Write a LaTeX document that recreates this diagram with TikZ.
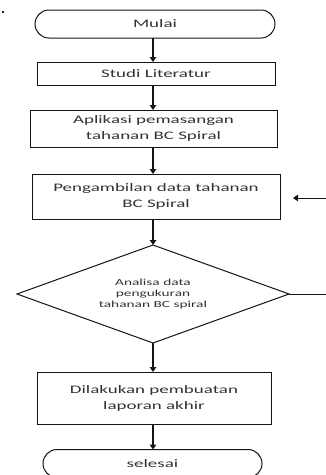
\documentclass[tikz,border=0pt]{standalone}
\usepackage{fontspec}
\usetikzlibrary{shapes.geometric,shapes.misc,arrows.meta}
\newfontfamily\boxfont[FakeStretch=1.65]{Carlito}
\definecolor{inkline}{RGB}{20,20,20}
\definecolor{inktext}{RGB}{50,50,50}
\tikzset{
  every node/.style={inner sep=0pt, outer sep=0pt},
  procbox/.style={draw=inkline, line width=1pt, rectangle, align=center,
    text=inktext, font={\boxfont\fontsize{11.5}{16}\selectfont}},
  termbox/.style={draw=inkline, line width=1pt, rounded rectangle, align=center,
    text=inktext, font={\boxfont\fontsize{11.5}{16}\selectfont}},
  decbox/.style={draw=inkline, line width=1pt, diamond, aspect=2.78, align=center,
    text=inktext, font={\boxfont\fontsize{9.3}{11.3}\selectfont}},
  flow/.style={draw=inkline, line width=1.5pt, -{Triangle[length=5pt,width=6.5pt]}},
  plainline/.style={draw=inkline, line width=1pt}
}
\begin{document}
\begin{tikzpicture}[x=1pt, y=-1pt]
  \useasboundingbox (0,0) rectangle (325,475);
  \fill[inkline] (3,12) circle (1.3);

  % process steps from top to bottom
  \node[termbox, minimum width=240, minimum height=28] (mulai) at (155,24) {Mulai};
  \node[procbox, minimum width=238, minimum height=23] (studi) at (156,73.5) {Studi Literatur};
  \node[procbox, minimum width=247, minimum height=37] (aplikasi) at (153.5,128.5)
    {Aplikasi pemasangan\\tahanan BC Spiral};
  \node[procbox, minimum width=248, minimum height=45] (ambil) at (156,196.5)
    {Pengambilan data tahanan\\BC Spiral};
  \node[decbox, minimum width=272, minimum height=98] (analisa) at (153,294)
    {Analisa data\\pengukuran\\tahanan BC spiral};
  \node[procbox, minimum width=234, minimum height=52] (lapor) at (154,398)
    {Dilakukan pembuatan\\laporan akhir};
  \node[termbox, minimum width=219, minimum height=28] (selesai) at (152.5,463.5) {selesai};

  % loose ends at the right edge
  \coordinate (feedin) at (326,198);
  \coordinate (feedtip) at (293,198);
  \coordinate (feedout) at (326,294);

  % connectors along the main spine x = 153
  \draw[flow] (mulai.south -| 153,0) -- (studi.north -| 153,0);
  \draw[flow] (studi.south -| 153,0) -- (aplikasi.north -| 153,0);
  \draw[flow] (aplikasi.south -| 153,0) -- (ambil.north -| 153,0);
  \draw[flow] (ambil.south -| 153,0) -- (analisa.north);
  \draw[flow] (analisa.south) -- (lapor.north -| 153,0);
  \draw[flow] (lapor.south -| 153,0) -- (selesai.north -| 153,0);
  \draw[flow, line width=1pt] (feedin) -- (feedtip);
  \draw[plainline] (analisa.east) -- (feedout);
\end{tikzpicture}
\end{document}
